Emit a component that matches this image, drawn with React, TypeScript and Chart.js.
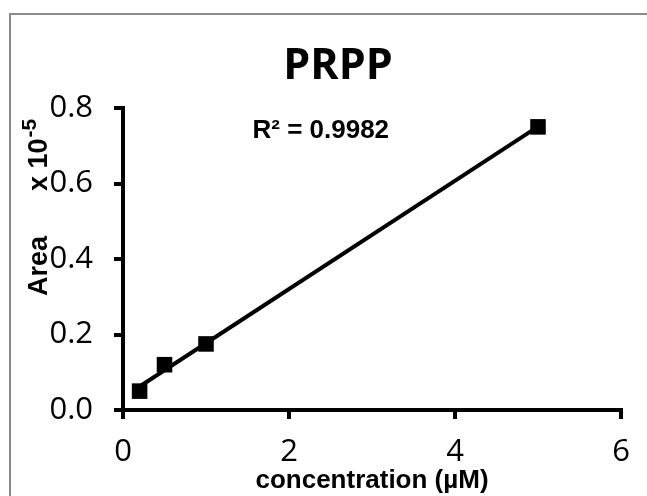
import React, { useEffect, useRef } from "react";
import { Chart, registerables } from "chart.js";

Chart.register(...registerables);

// Standard curve: PRPP concentration (µM) vs peak area (×10^-5)
const concentrations = [0.2, 0.5, 1, 5];
const areas = [0.05, 0.12, 0.175, 0.75];
const r2Label = "R² = 0.9982";
const chartTitle = "PRPP";
const xAxisTitle = "concentration (µM)";
const yAxisTitleMain = "Area";
const yAxisTitleScale = "x 10";
const yAxisTitleExp = "-5";
const xTicks = [0, 2, 4, 6];
const yTicks = [0, 0.2, 0.4, 0.6, 0.8];

// least-squares fit through the measured points
function linearFit(xs: number[], ys: number[]) {
  const n = xs.length;
  const mx = xs.reduce((a, b) => a + b, 0) / n;
  const my = ys.reduce((a, b) => a + b, 0) / n;
  let sxy = 0;
  let sxx = 0;
  for (let i = 0; i < n; i++) {
    sxy += (xs[i] - mx) * (ys[i] - my);
    sxx += (xs[i] - mx) * (xs[i] - mx);
  }
  const slope = sxy / sxx;
  return { slope, intercept: my - slope * mx };
}

const TICK_FONT = "'Open Sans', sans-serif";
const LABEL_FONT = "'Liberation Sans', Arial, sans-serif";

const decorations = {
  id: "decorations",
  beforeDraw(chart: any) {
    const ctx = chart.ctx as CanvasRenderingContext2D;
    ctx.save();
    ctx.fillStyle = "#ffffff";
    ctx.fillRect(0, 0, chart.width, chart.height);
    // outer frame (left and top edges visible)
    ctx.strokeStyle = "#8a8a8a";
    ctx.lineWidth = 2;
    ctx.beginPath();
    ctx.moveTo(10, chart.height + 2);
    ctx.lineTo(10, 14);
    ctx.lineTo(chart.width + 2, 14);
    ctx.stroke();
    ctx.restore();
  },
  afterDraw(chart: any) {
    const ctx = chart.ctx as CanvasRenderingContext2D;
    const xs = chart.scales.x;
    const ys = chart.scales.y;
    ctx.save();
    ctx.fillStyle = "#000";

    // title
    ctx.font = `bold 43px ${TICK_FONT}`;
    ctx.textAlign = "center";
    ctx.textBaseline = "alphabetic";
    ctx.fillText(chartTitle, 338, 79);

    // fit statistic
    ctx.font = `bold 26px ${LABEL_FONT}`;
    ctx.textAlign = "left";
    ctx.textBaseline = "middle";
    ctx.fillText(r2Label, xs.getPixelForValue(1.56), ys.getPixelForValue(0.74));

    // x axis title
    ctx.font = `bold 26px ${LABEL_FONT}`;
    ctx.textAlign = "center";
    ctx.textBaseline = "alphabetic";
    ctx.fillText(xAxisTitle, 372, 488);

    // y axis title, rotated
    ctx.translate(47, 0);
    ctx.rotate(-Math.PI / 2);
    ctx.font = `bold 27px ${LABEL_FONT}`;
    ctx.textAlign = "center";
    ctx.textBaseline = "alphabetic";
    ctx.fillText(yAxisTitleMain, -266, 0);
    ctx.textAlign = "left";
    ctx.fillText(yAxisTitleScale, -191, 0);
    const w = ctx.measureText(yAxisTitleScale).width;
    ctx.font = `bold 21px ${LABEL_FONT}`;
    ctx.fillText(yAxisTitleExp, -191 + w + 1, -11);
    ctx.restore();
  },
};

export default function App() {
  const canvasRef = useRef<HTMLCanvasElement | null>(null);

  useEffect(() => {
    if (!canvasRef.current) return;
    const fit = linearFit(concentrations, areas);
    const xMin = Math.min(...concentrations);
    const xMax = Math.max(...concentrations);
    const trend = [
      { x: xMin, y: fit.slope * xMin + fit.intercept },
      { x: xMax, y: fit.slope * xMax + fit.intercept },
    ];
    const points = concentrations.map((c, i) => ({ x: c, y: areas[i] }));

    const chart = new Chart(canvasRef.current, {
      type: "scatter",
      data: {
        datasets: [
          {
            type: "line",
            data: trend,
            borderColor: "#000",
            borderWidth: 4,
            pointRadius: 0,
            fill: false,
            order: 2,
          },
          {
            type: "scatter",
            data: points,
            pointStyle: "rect",
            pointRadius: 11,
            backgroundColor: "#000",
            borderColor: "#000",
            borderWidth: 0,
            order: 1,
          },
        ],
      },
      options: {
        responsive: false,
        animation: false,
        events: [],
        layout: { padding: { left: 0, top: 108, right: 26, bottom: 0 } },
        plugins: {
          legend: { display: false },
          tooltip: { enabled: false },
          title: { display: false },
        },
        scales: {
          x: {
            type: "linear",
            min: 0,
            max: 6,
            afterBuildTicks: (s: any) => {
              s.ticks = xTicks.map((v) => ({ value: v }));
            },
            afterFit: (s: any) => {
              s.height = 86;
            },
            ticks: {
              color: "#000",
              font: { family: TICK_FONT, size: 31 },
              padding: 15,
              maxRotation: 0,
            },
            grid: {
              drawOnChartArea: false,
              drawTicks: true,
              tickLength: 9,
              color: "#000",
              lineWidth: 4,
            },
            border: { display: true, color: "#000", width: 4 },
          },
          y: {
            type: "linear",
            min: 0,
            max: 0.8,
            afterBuildTicks: (s: any) => {
              s.ticks = yTicks.map((v) => ({ value: v }));
            },
            afterFit: (s: any) => {
              s.width = 123;
            },
            ticks: {
              color: "#000",
              font: { family: TICK_FONT, size: 31 },
              padding: 21,
              callback: (v: any) => Number(v).toFixed(1),
            },
            grid: {
              drawOnChartArea: false,
              drawTicks: true,
              tickLength: 9,
              color: "#000",
              lineWidth: 4,
            },
            border: { display: true, color: "#000", width: 4 },
          },
        },
      },
      plugins: [decorations],
    });
    return () => chart.destroy();
  }, []);

  return (
    <div style={{ position: "fixed", left: 0, top: 0, width: 647, height: 496, background: "#fff" }}>
      <canvas ref={canvasRef} width={647} height={496} style={{ display: "block" }} />
    </div>
  );
}
